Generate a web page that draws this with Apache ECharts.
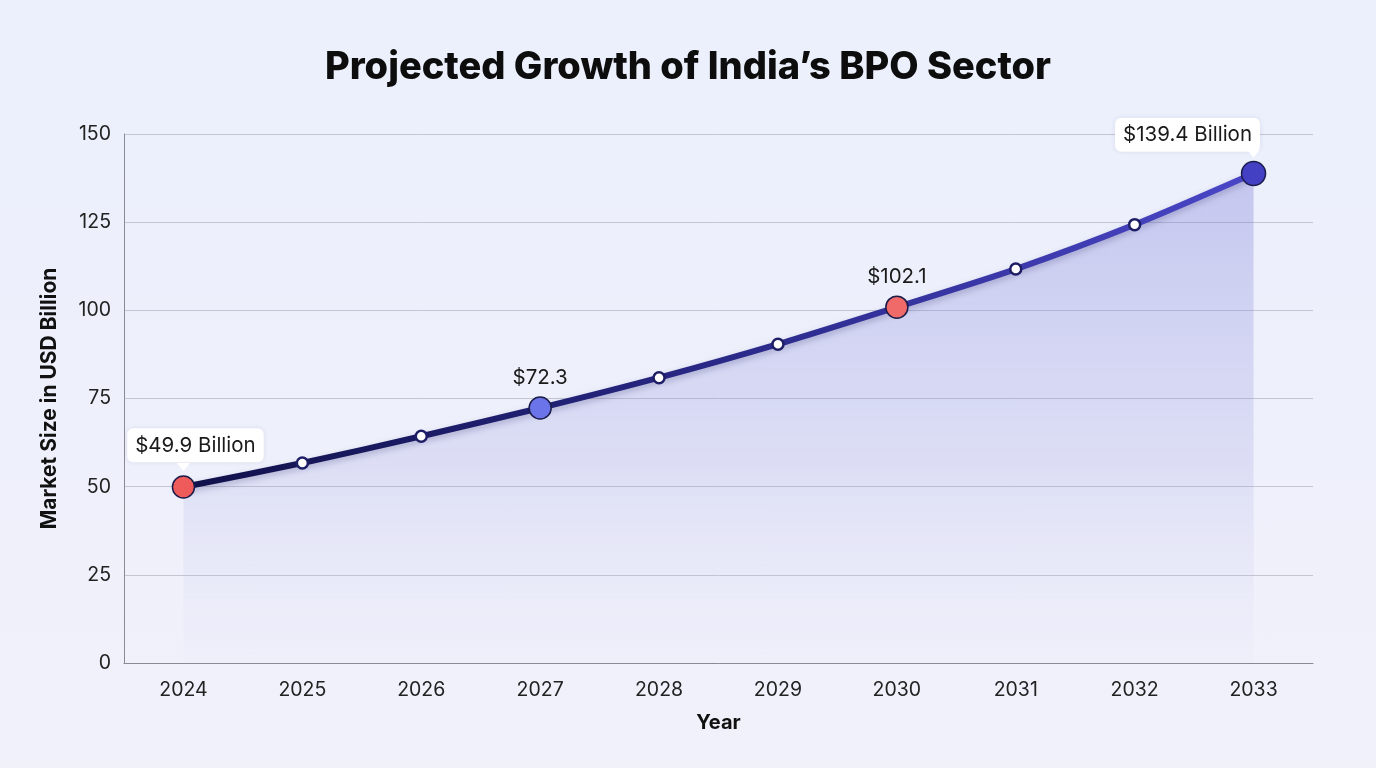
<!DOCTYPE html>
<html lang="en">
<head>
    <meta charset="UTF-8">
    <title>Projected Growth of India's BPO Sector</title>
    <style>
        html, body {
            margin: 0;
            padding: 0;
        }
        body {
            background: linear-gradient(180deg, #ebf0fc 0%, #eef0fb 60%, #f1f1fa 100%);
        }
        #main {
            width: 1376px;
            height: 768px;
        }
    </style>
</head>
<body>
<div id="main"></div>
<script src="https://cdn.jsdelivr.net/npm/echarts@6/dist/echarts.min.js"></script>
<script>
    const myChart = echarts.init(document.getElementById('main'));

    // years on the x axis
    const years = ['2024', '2025', '2026', '2027', '2028', '2029', '2030', '2031', '2032', '2033'];
    // market size, USD billion (as plotted)
    const marketSize = [49.9, 56.7, 64.3, 72.3, 80.9, 90.4, 100.9, 111.7, 124.3, 138.8];
    // which points get a callout, and how
    const callouts = {
        '2024': { text: '$49.9 Billion', boxed: true, color: '#ef5b5b' },
        '2027': { text: '$72.3', boxed: false, color: '#6b74e8' },
        '2030': { text: '$102.1', boxed: false, color: '#f06a6a' },
        '2033': { text: '$139.4 Billion', boxed: true, color: '#4340c4' }
    };

    const font = 'Inter, "Noto Sans", sans-serif';

    const seriesData = marketSize.map((v, i) => {
        const c = callouts[years[i]];
        if (!c) {
            return {
                value: v,
                symbolSize: 11,
                itemStyle: { color: '#ffffff', borderColor: '#1e1e66', borderWidth: 2.5 }
            };
        }
        const label = {
            show: true,
            position: 'top',
            formatter: c.text,
            color: '#1a1a1a',
            fontSize: 20.5,
            fontFamily: font,
            distance: 8
        };
        if (c.boxed) {
            Object.assign(label, {
                backgroundColor: '#ffffff',
                borderRadius: 6,
                padding: [7, 8, 6, 8],
                shadowColor: 'rgba(40,40,120,0.10)',
                shadowBlur: 5,
                distance: 13
            });
            if (years[i] === '2024') label.offset = [12, 0];
            if (years[i] === '2033') label.offset = [-66, 4];
        }
        return {
            value: v,
            symbolSize: years[i] === '2033' ? 24 : 22,
            itemStyle: { color: c.color, borderColor: '#1c1c4a', borderWidth: 1.5 },
            label: label
        };
    });

    // small pointers under the boxed callouts
    const pointers = years
        .map((y, i) => ({ y, i }))
        .filter(d => callouts[d.y] && callouts[d.y].boxed)
        .map(d => ({ coord: [d.y, marketSize[d.i]] }));

    const option = {
        backgroundColor: 'transparent',
        title: {
            text: 'Projected Growth of India\u2019s BPO Sector',
            left: 'center',
            top: 44,
            textStyle: {
                fontFamily: font,
                fontSize: 38,
                fontWeight: 800,
                color: '#0d0d0d'
            }
        },
        grid: {
            left: 124,
            right: 63,
            top: 134,
            bottom: 105
        },
        xAxis: {
            type: 'category',
            data: years,
            boundaryGap: true,
            name: 'Year',
            nameLocation: 'middle',
            nameGap: 50,
            nameTextStyle: { fontFamily: font, fontSize: 20, fontWeight: 700, color: '#111' },
            axisLine: { lineStyle: { color: '#8a8a94', width: 1 } },
            axisTick: { show: false },
            axisLabel: { fontFamily: font, fontSize: 19.5, color: '#222', margin: 17 }
        },
        yAxis: {
            type: 'value',
            min: 0,
            max: 150,
            interval: 25,
            name: 'Market Size in USD Billion',
            nameLocation: 'middle',
            nameGap: 64,
            nameTextStyle: { fontFamily: font, fontSize: 21, fontWeight: 700, color: '#111' },
            axisLine: { show: true, lineStyle: { color: '#8a8a94', width: 1 } },
            axisTick: { show: false },
            axisLabel: { fontFamily: font, fontSize: 19.5, color: '#222', margin: 13 },
            splitLine: { lineStyle: { color: '#c4c5d2', width: 1 } }
        },
        series: [{
            type: 'line',
            data: seriesData,
            smooth: 0.25,
            symbol: 'circle',
            z: 3,
            lineStyle: {
                width: 6,
                color: new echarts.graphic.LinearGradient(0, 0, 1, 0, [
                    { offset: 0, color: '#10104a' },
                    { offset: 0.4, color: '#23237a' },
                    { offset: 1, color: '#4a46c8' }
                ]),
                shadowColor: 'rgba(30,30,90,0.25)',
                shadowBlur: 6,
                shadowOffsetY: 3
            },
            areaStyle: {
                color: new echarts.graphic.LinearGradient(0, 0, 0, 1, [
                    { offset: 0, color: 'rgba(110,108,210,0.45)' },
                    { offset: 0.6, color: 'rgba(140,140,220,0.25)' },
                    { offset: 1, color: 'rgba(200,200,240,0.04)' }
                ])
            },
            markPoint: {
                silent: true,
                symbol: 'triangle',
                symbolSize: [13, 8],
                symbolRotate: 180,
                symbolOffset: [0, -20],
                itemStyle: { color: '#ffffff' },
                label: { show: false },
                data: pointers
            }
        }]
    };

    myChart.setOption(option);
</script>
</body>
</html>
